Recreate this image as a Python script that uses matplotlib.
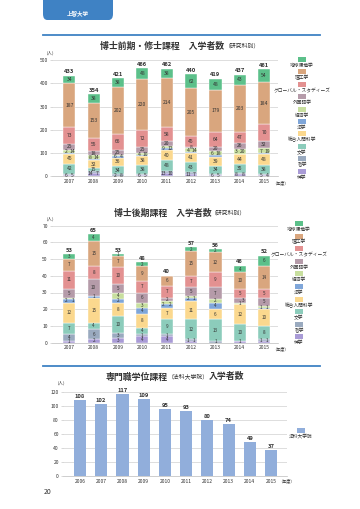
import matplotlib
matplotlib.use("Agg")
import matplotlib.pyplot as plt
from matplotlib.patches import Rectangle, FancyBboxPatch
from matplotlib.lines import Line2D
import numpy as np

plt.rcParams['font.family'] = ['Noto Sans CJK JP', 'DejaVu Sans']

# ---------------- data ----------------
fields = ['神学', '哲学', '文学', '総合人間科学', '法学', '経済学', '外国語学',
          'グローバル・スタディーズ', '理工学', '地球環境学']
colors = ['#a99bd6', '#9aaabf', '#8cccbb', '#fbd88e', '#7fa6d9', '#c8df9f',
          '#b59ba9', '#e39191', '#d9a67e', '#5cc08a']

years1 = ['2007', '2008', '2009', '2010', '2011', '2012', '2013', '2014', '2015']
theo1 = [6, 14, 2, 6, 13, 11, 6, 8, 5]
phil1 = [5, 7, 8, 5, 10, 7, 5, 8, 4]
lit1 = [42, 15, 34, 38, 48, 43, 34, 35, 38]
hum1 = [45, 32, 36, 38, 40, 41, 39, 44, 48]
law1 = [2, 8, 6, 4, 9, 4, 6, 3, 7]
eco1 = [14, 14, 4, 10, 12, 14, 18, 20, 19]
for1 = [25, 18, 25, 25, 20, 8, 20, 26, 32]
glo1 = [73, 55, 66, 72, 58, 45, 64, 47, 70]
sci1 = [187, 153, 202, 220, 214, 205, 179, 203, 184]
env1 = [34, 38, 38, 48, 38, 62, 48, 43, 54]

years2 = ['2007', '2008', '2009', '2010', '2011', '2012', '2013', '2014', '2015']
theo2 = [1, 2, 3, 4, 4, 1, 0, 1, 1]
phil2 = [4, 6, 3, 1, 1, 1, 1, 0, 1]
lit2 = [7, 4, 10, 4, 9, 12, 13, 10, 8]
hum2 = [12, 15, 8, 8, 7, 11, 6, 12, 10]
law2 = [2, 1, 2, 4, 2, 2, 4, 0, 1]
eco2 = [1, 0, 4, 3, 2, 1, 2, 1, 1]
for2 = [5, 10, 5, 6, 2, 5, 7, 3, 5]
glo2 = [11, 8, 10, 7, 7, 7, 9, 5, 5]
sci2 = [7, 15, 7, 9, 6, 15, 12, 10, 14]
env2 = [3, 4, 1, 2, 0, 2, 2, 4, 6]

years3 = ['2006', '2007', '2008', '2009', '2010', '2011', '2012', '2013', '2014', '2015']
lawschool3 = [108, 102, 117, 109, 95, 93, 80, 74, 49, 37]

series1 = [theo1, phil1, lit1, hum1, law1, eco1, for1, glo1, sci1, env1]
series2 = [theo2, phil2, lit2, hum2, law2, eco2, for2, glo2, sci2, env2]

# ---------------- figure ----------------
W, H = 360, 509
fig = plt.figure(figsize=(W / 100, H / 100), dpi=100)
fig.patch.set_facecolor('white')


def fx(px):
    return px / W


def fy(py):
    return 1 - py / H


def add_axes(x0, y0, x1, y1):
    return fig.add_axes([fx(x0), fy(y1), fx(x1) - fx(x0), (y1 - y0) / H])


BLUE = '#3f82c4'
TXT = '#333333'
LAB = 3.6

# header tab
tab = FancyBboxPatch((fx(43), fy(20)), fx(113) - fx(43), 0.06,
                     boxstyle='round,pad=0,rounding_size=0.012',
                     transform=fig.transFigure, facecolor=BLUE, edgecolor='none')
fig.patches.append(tab)
fig.text(fx(78), fy(13), '上智大学', color='white', fontsize=4, fontweight='bold',
         ha='center', va='center')

for yl in (34.5, 366):
    fig.add_artist(Line2D([fx(43), fx(320)], [fy(yl), fy(yl)], color=BLUE, lw=1.3,
                          transform=fig.transFigure))


def title(xc, y, parts):
    texts = []
    for s, big in parts:
        if big:
            t = fig.text(0, fy(y), s, fontsize=6.4, fontweight='bold', color=TXT,
                         ha='left', va='center')
        else:
            t = fig.text(0, fy(y), s, fontsize=4.2, color=TXT, ha='left', va='center')
        texts.append(t)
    fig.canvas.draw()
    r = fig.canvas.get_renderer()
    widths = [t.get_window_extent(r).width for t in texts]
    x0 = xc - sum(widths) / 2
    for t, w in zip(texts, widths):
        t.set_x(fx(x0))
        x0 += w


def legend(items, cols, x, y0, dy):
    for i, (name, c) in enumerate(zip(items, cols)):
        y = y0 + i * dy
        fig.patches.append(Rectangle((fx(x - 4), fy(y + 5)), 8 / W, 5 / H,
                                     transform=fig.transFigure, facecolor=c,
                                     edgecolor='none'))
        fig.text(fx(x), fy(y + 8.5), name, fontsize=3.4, color=TXT, ha='center',
                 va='center')


def style_axes(ax, ymax, step):
    ax.set_ylim(0, ymax)
    ax.set_yticks(np.arange(0, ymax + 1, step))
    ax.yaxis.grid(True, color='#d0d0d0', lw=0.5)
    ax.set_axisbelow(True)
    for s in ('top', 'right', 'left'):
        ax.spines[s].set_visible(False)
    ax.spines['bottom'].set_color('#bbbbbb')
    ax.spines['bottom'].set_linewidth(0.5)
    ax.tick_params(axis='both', labelsize=3.6, colors=TXT, length=0, pad=2)
    ax.tick_params(axis='y', length=1.5, width=0.4, color='#bbbbbb', pad=1.5)


def stacked(ax, years, series, pair_always, small_lim, fs, min_gap):
    x = np.arange(len(years))
    bottom = np.zeros(len(years))
    width = 0.5
    for vals, c in zip(series, colors):
        v = np.array(vals, dtype=float)
        ax.bar(x, v, width, bottom=bottom, color=c, edgecolor='white', linewidth=0.3)
        bottom += v
    ymax = ax.get_ylim()[1]
    for i in range(len(years)):
        cum = np.cumsum([0] + [s[i] for s in series])
        last_y, last_dx = -1e9, 0.0
        k = 0
        while k < len(series):
            if k in (0, 4):
                a, b = series[k][i], series[k + 1][i]
                if pair_always or (a > 0 and b > 0 and a <= small_lim and b <= small_lim):
                    yc = (cum[k] + cum[k + 2]) / 2
                    if a > 0:
                        ax.text(x[i] - 0.13, yc, str(a), fontsize=fs, ha='center',
                                va='center', color=TXT)
                    if b > 0:
                        ax.text(x[i] + 0.13, yc, str(b), fontsize=fs, ha='center',
                                va='center', color=TXT)
                    last_y, last_dx = yc, 0.13
                    k += 2
                    continue
            v = series[k][i]
            if v > 0:
                yc = (cum[k] + cum[k + 1]) / 2
                dx = 0.0
                if yc - last_y < min_gap:
                    dx = -0.14 if last_dx >= 0 else 0.14
                    if last_dx == 0:
                        dx = 0.14
                ax.text(x[i] + dx, yc, str(v), fontsize=fs,
                        ha='center', va='center', color=TXT)
                last_y, last_dx = yc, dx
            k += 1
        ax.text(x[i], cum[-1] + ymax * 0.012, str(int(cum[-1])),
                fontsize=4.2, fontweight='bold', ha='center', va='bottom', color=TXT)
    ax.set_xticks(x)
    ax.set_xticklabels(years)
    ax.text(x[-1] + 0.33, -ymax * 0.055, '（年度）', fontsize=3.0,
            ha='left', va='center', color=TXT)


# ---------- chart 1 ----------
title(180, 46, [('博士前期・修士課程　入学者数', True), ('（研究科別）', False)])
ax1 = add_axes(52, 60, 278, 176.3)
style_axes(ax1, 500, 100)
ax1.set_xlim(-0.71, 8.57)
stacked(ax1, years1, series1, True, 0, LAB, 0)
fig.text(fx(44), fy(53), '（人）', fontsize=3.2, color=TXT, ha='left', va='center')
legend(fields[::-1], colors[::-1], 302, 57, 12.4)

# ---------- chart 2 ----------
title(180, 213, [('博士後期課程　入学者数', True), ('（研究科別）', False)])
ax2 = add_axes(52, 225.7, 278, 342.6)
style_axes(ax2, 70, 10)
ax2.set_xlim(-0.71, 8.57)
stacked(ax2, years2, series2, False, 2, 3.3, 2.4)
fig.text(fx(44), fy(219), '（人）', fontsize=3.2, color=TXT, ha='left', va='center')
legend(fields[::-1], colors[::-1], 299, 221, 12.6)

# ---------- chart 3 ----------
title(175, 377, [('専門職学位課程', True), ('（法科大学院）', False), ('入学者数', True)])
ax3 = add_axes(63, 391.7, 287, 476)
style_axes(ax3, 120, 20)
ax3.set_xlim(-0.8, 9.75)
x3 = np.arange(len(years3))
ax3.bar(x3, lawschool3, 0.57, color='#91aedb')
for xi, v in zip(x3, lawschool3):
    ax3.text(xi, v + 1.5, str(v), fontsize=4.2, fontweight='bold', ha='center',
             va='bottom', color=TXT)
ax3.set_xticks(x3)
ax3.set_xticklabels(years3)
ax3.text(x3[-1] + 0.35, -120 * 0.055, '（年度）', fontsize=3.0, ha='left',
         va='center', color=TXT)
fig.text(fx(55), fy(383), '（人）', fontsize=3.2, color=TXT, ha='left', va='center')
fig.patches.append(Rectangle((fx(297), fy(433)), 8 / W, 5 / H,
                             transform=fig.transFigure, facecolor='#91aedb',
                             edgecolor='none'))
fig.text(fx(301), fy(437), '法科大学院', fontsize=3.4, color=TXT, ha='center',
         va='center')

fig.text(fx(48), fy(492), '20', fontsize=5, color=TXT, ha='center', va='center')

fig.savefig('out.png', dpi=100, facecolor='white')
